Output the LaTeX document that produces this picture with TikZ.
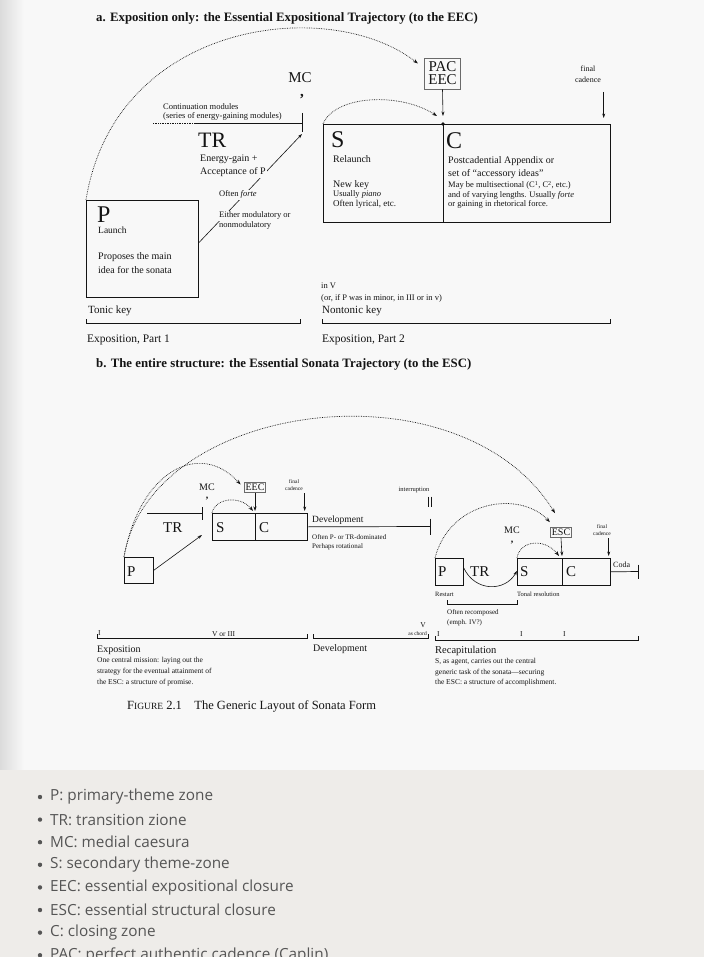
\documentclass[tikz,border=0pt]{standalone}
\usepackage{fontspec}
\setmainfont{Liberation Serif}
\newfontfamily\listfont{Open Sans}
\usetikzlibrary{arrows.meta,calc}
\definecolor{scanink}{HTML}{141414}
\definecolor{scangray}{HTML}{6A6A6A}
\definecolor{pagecol}{HTML}{F8F8F8}
\definecolor{sitebg}{HTML}{EEECE9}
\definecolor{listink}{HTML}{555555}
\newcommand{\fsz}[1]{\fontsize{#1}{#1}\selectfont}
\newcommand{\keyspan}[2]{\draw[spanline] ([yshift=4pt]#1) -- (#1) -- (#2) -- ([yshift=4pt]#2);}
\tikzset{
  zonebox/.style={draw=scanink, line width=0.7pt, inner sep=0pt, anchor=north west},
  lbl/.style={inner sep=0pt, anchor=base west, text=scanink},
  ctr/.style={inner sep=0pt, text=scanink, align=center},
  dotarc/.style={densely dotted, line width=0.7pt, draw=scanink, -{Stealth[length=5pt,width=3.5pt]}},
  pointer/.style={line width=0.6pt, draw=scanink, -{Stealth[length=4.5pt,width=3pt]}},
  spanline/.style={line width=0.7pt, draw=scanink},
  cadbox/.style={draw=scangray, line width=0.9pt, inner sep=1.5pt, text=scanink},
  listitem/.style={inner sep=0pt, anchor=west, text=listink, font=\listfont\fsz{15.3}}
}
\begin{document}
\begin{tikzpicture}[x=1pt, y=-1pt]
  \useasboundingbox (0,0) rectangle (704,957);
  \clip (0,0) rectangle (704,957);
  %% page and site backgrounds
  \fill[pagecol] (0,0) rectangle (704,770);
  \fill[left color=black!14, right color=pagecol] (0,0) rectangle (24,770);
  \fill[sitebg] (0,770) rectangle (704,957);

  %% ---------- a. Exposition only ----------
  \node[lbl, font=\bfseries\fsz{12.8}] (titleA) at (96,22) {a. Exposition only: the Essential Expositional Trajectory (to the EEC)};

  % P zone
  \node[zonebox, minimum width=112pt, minimum height=97pt] (pA) at (86,200) {};
  \node[lbl, font=\fsz{24}] at (97,223) {P};
  \node[lbl, font=\fsz{9.5}] at (98,234) {Launch};
  \node[lbl, font=\fsz{10}] at (98,260) {Proposes the main};
  \node[lbl, font=\fsz{10}] at (98,273) {idea for the sonata};

  % S and C zones
  \node[zonebox, minimum width=120pt, minimum height=98pt] (sA) at (323,124) {};
  \node[zonebox, minimum width=167pt, minimum height=98pt] (cA) at (443,124) {};
  \node[lbl, font=\fsz{24}] at (331,148) {S};
  \node[lbl, font=\fsz{10}] at (333,163) {Relaunch};
  \node[lbl, font=\fsz{10}] at (333,188) {New key};
  \node[lbl, font=\fsz{8.5}] at (333,197) {Usually \textit{piano}};
  \node[lbl, font=\fsz{9}] at (333,207) {Often lyrical, etc.};
  \node[lbl, font=\fsz{24}] at (446,149) {C};
  \node[lbl, font=\fsz{10}] at (448,164) {Postcadential Appendix or};
  \node[lbl, font=\fsz{10}] at (448,177) {set of ``accessory ideas''};
  \node[lbl, font=\fsz{8.5}] at (448,188) {May be multisectional (C\textsuperscript{1}, C\textsuperscript{2}, etc.)};
  \node[lbl, font=\fsz{8.5}] at (448,198) {and of varying lengths. Usually \textit{forte}};
  \node[lbl, font=\fsz{8.5}] at (448,207) {or gaining in rhetorical force.};

  % cadence markers
  \node[cadbox, font=\fontsize{15}{13}\selectfont, align=center, inner sep=4pt] (pacA) at (442.5,73.5) {PAC\\EEC};
  \node[ctr, font=\fontsize{8}{11}\selectfont] (fcA) at (588,74) {final\\cadence};
  \node[ctr, font=\fsz{15}] (mcA) at (300,78) {MC};
  \node[ctr, font=\bfseries\fsz{15}] (mcAc) at (302,97) {,};

  % continuation modules and TR
  \node[lbl, font=\fsz{8.5}] at (163,110) {Continuation modules};
  \node[lbl, font=\fsz{8.5}] at (163,119) {(series of energy-gaining modules)};
  \coordinate (trA) at (302,123);
  \draw[spanline, densely dotted] (153,123) -- (195,123);
  \draw[spanline] (195,123) -- (trA);
  \draw[spanline] ([yshift=10pt]trA) -- ([yshift=-9pt]trA);
  \draw[pointer] ([yshift=6pt]pA.east) -- ([yshift=-11pt]trA);
  \node[lbl, font=\fsz{22}] at (198,148) {TR};
  \node[lbl, font=\fsz{10}] at (200,162) {Energy-gain +};
  \node[lbl, font=\fsz{10}, fill=pagecol, inner sep=1pt] at (199,175) {Acceptance of P};
  \node[lbl, font=\fsz{8.5}, fill=pagecol, inner sep=1pt] at (218,197) {Often \textit{forte}};
  \node[lbl, font=\fsz{8.5}, fill=pagecol, inner sep=1pt] at (218,218) {Either modulatory or};
  \node[lbl, font=\fsz{8.5}] at (219,228) {nonmodulatory};

  % trajectories a
  \draw[dotarc] (pA.north west) .. controls (115,20) and (330,-5) .. ([xshift=-6pt,yshift=10pt]pacA.west);
  \draw[dotarc] (sA.north west) .. controls (335,95) and (400,92) .. ([xshift=-6pt,yshift=8pt]cA.north west);
  \draw[pointer] (pacA.south) -- ([yshift=8pt]cA.north west);
  \fill[scanink] (cA.north west) circle (1.8);
  \draw[pointer] ($(cA.north east)+(-7,-32)$) -- ($(cA.north east)+(-7,-6)$);

  % key spans a
  \node[lbl, font=\fsz{11}] at (88,313) {Tonic key};
  \coordinate (kA1l) at (86,323);
  \coordinate (kA1r) at (300,323);
  \keyspan{kA1l}{kA1r}
  \node[lbl, font=\fsz{11.5}] at (87,342) {Exposition, Part 1};
  \node[lbl, font=\fsz{8.5}] at (321,288) {in V};
  \node[lbl, font=\fsz{8.5}] at (321,300) {(or, if P was in minor, in III or in v)};
  \node[lbl, font=\fsz{11}] at (322,313) {Nontonic key};
  \coordinate (kA2l) at (322,323);
  \coordinate (kA2r) at (610,323);
  \keyspan{kA2l}{kA2r}
  \node[lbl, font=\fsz{11.5}] at (322,342) {Exposition, Part 2};

  %% ---------- b. The entire structure ----------
  \node[lbl, font=\bfseries\fsz{12.8}] (titleB) at (96,367) {b. The entire structure: the Essential Sonata Trajectory (to the ESC)};

  % exposition
  \node[zonebox, minimum width=29pt, minimum height=26pt] (pB) at (124,557) {};
  \node[lbl, font=\fsz{15}] at (127,576) {P};
  \node[zonebox, minimum width=43pt, minimum height=27pt] (sB) at (212,513) {};
  \node[zonebox, minimum width=52pt, minimum height=27pt] (cB) at (255,513) {};
  \node[lbl, font=\fsz{15}] at (216,532) {S};
  \node[lbl, font=\fsz{15}] at (259,532) {C};
  \node[cadbox, font=\fsz{10}] (eecB) at (255,487.5) {EEC};
  \node[ctr, font=\fsz{10}] (mcB) at (207,487) {MC};
  \node[ctr, font=\bfseries\fsz{10}] (mcBc) at (207,499) {,};
  \node[ctr, font=\fontsize{5.5}{6.5}\selectfont] (fcB) at (294,485) {final\\cadence};
  \coordinate (trB) at (202,513);
  \draw[spanline] (147,513) -- (trB);
  \draw[spanline] ([yshift=6pt]trB) -- ([yshift=-7pt]trB);
  \node[lbl, font=\fsz{15}] at (163,532) {TR};
  \draw[pointer] (pB.east) -- ([yshift=-22pt]trB);
  \draw[pointer] (eecB.south) -- ([yshift=2pt]cB.north west);
  \draw[pointer] ($(cB.north east)+(-3,-20)$) -- ($(cB.north east)+(-3,-2)$);

  % development
  \coordinate (devB) at (430,526.5);
  \draw[spanline] (cB.east) -- (devB);
  \draw[spanline] ([yshift=8pt]devB) -- ([yshift=-8pt]devB);
  \node[lbl, font=\fsz{9.5}] at (312,522) {Development};
  \node[lbl, font=\fsz{7}] at (312,539) {Often P- or TR-dominated};
  \node[lbl, font=\fsz{7}] at (312,548) {Perhaps rotational};
  \node[ctr, font=\fsz{6.5}] (intB) at (414,490) {interruption};
  \draw[spanline] ([xshift=-1.5pt,yshift=30pt]devB) -- ([xshift=-1.5pt,yshift=20pt]devB);
  \draw[spanline] ([xshift=1.5pt,yshift=30pt]devB) -- ([xshift=1.5pt,yshift=20pt]devB);

  % recapitulation
  \node[zonebox, minimum width=28pt, minimum height=27pt] (pR) at (435,558) {};
  \node[lbl, font=\fsz{15}] at (438,576) {P};
  \node[zonebox, minimum width=45pt, minimum height=27pt] (sR) at (517,558) {};
  \node[zonebox, minimum width=48pt, minimum height=27pt] (cR) at (562,558) {};
  \node[lbl, font=\fsz{15}] at (520,576) {S};
  \node[lbl, font=\fsz{15}] at (566,576) {C};
  \node[lbl, font=\fsz{15}] at (470,576) {TR};
  \node[cadbox, font=\fsz{10}] (escR) at (561,532.5) {ESC};
  \node[ctr, font=\fsz{10}] (mcR) at (512,530) {MC};
  \node[ctr, font=\bfseries\fsz{10}] (mcRc) at (512,543) {,};
  \node[ctr, font=\fontsize{5.5}{6.5}\selectfont] (fcR) at (602,530) {final\\cadence};
  \draw[pointer] ([yshift=4pt]pR.east) .. controls (475,592) and (505,592) .. ([yshift=1pt]sR.west);
  \draw[pointer] (escR.south) -- ([yshift=2pt]cR.north west);
  \draw[pointer] ($(cR.north east)+(-2,-20)$) -- ($(cR.north east)+(-2,-2)$);
  \coordinate (codaR) at (638,571.5);
  \draw[spanline] (cR.east) -- (codaR);
  \draw[spanline] ([yshift=7pt]codaR) -- ([yshift=-7pt]codaR);
  \node[lbl, font=\fsz{8}] at (613,567) {Coda};
  \node[lbl, font=\fsz{6.5}] at (435,596) {Restart};
  \node[lbl, font=\fsz{6.5}] at (517,596) {Tonal resolution};
  \coordinate (rcL) at (447,604);
  \coordinate (rcR) at (517,604);
  \keyspan{rcL}{rcR}
  \node[lbl, font=\fsz{7}] at (447,614) {Often recomposed};
  \node[lbl, font=\fsz{7}] at (447,624) {(emph. IV?)};

  % trajectories b
  \draw[dotarc] (pB.north west) .. controls (150,400) and (460,360) .. ([xshift=-6pt,yshift=14pt]escR.north);
  \draw[dotarc] (pB.north west) .. controls (140,470) and (200,440) .. ([xshift=-3pt,yshift=3pt]eecB.west);
  \draw[dotarc] (sB.north west) .. controls (215,498) and (240,495) .. ([xshift=-2pt,yshift=2pt]cB.north west);
  \draw[dotarc] (pR.north west) .. controls (450,500) and (520,490) .. ([yshift=5pt]escR.north west);
  \draw[dotarc] (sR.north west) .. controls (520,540) and (545,538) .. ([xshift=-3pt,yshift=2pt]cR.north west);

  % key spans b
  \node[lbl, font=\fsz{7.5}] at (98,635) {I};
  \node[lbl, font=\fsz{7.5}] at (212,636) {V or III};
  \coordinate (kBxl) at (97,638);
  \coordinate (kBxr) at (307,638);
  \keyspan{kBxl}{kBxr}
  \node[lbl, font=\fsz{10}] at (97,652) {Exposition};
  \node[lbl, font=\fsz{7.5}] at (97,662) {One central mission: laying out the};
  \node[lbl, font=\fsz{7.5}] at (97,673) {strategy for the eventual attainment of};
  \node[lbl, font=\fsz{7.5}] at (97,684) {the ESC: a structure of promise.};
  \coordinate (kBdl) at (313,638);
  \coordinate (kBdr) at (428,638);
  \keyspan{kBdl}{kBdr}
  \node[lbl, font=\fsz{10}] at (313,651) {Development};
  \node[ctr, font=\fsz{7.5}] at (423,625) {V};
  \node[lbl, anchor=base east, font=\fsz{5.5}] at (427,635) {as chord};
  \coordinate (kBrl) at (435,640);
  \coordinate (kBrr) at (638,640);
  \keyspan{kBrl}{kBrr}
  \node[lbl, font=\fsz{7.5}] at (437,636) {I};
  \node[lbl, font=\fsz{7.5}] at (520,636) {I};
  \node[lbl, font=\fsz{7.5}] at (563,636) {I};
  \node[lbl, font=\fsz{10.5}] at (435,653) {Recapitulation};
  \node[lbl, font=\fsz{7.5}] at (435,663) {S, as agent, carries out the central};
  \node[lbl, font=\fsz{7.5}] at (435,674) {generic task of the sonata---securing};
  \node[lbl, font=\fsz{7.5}] at (435,684) {the ESC: a structure of accomplishment.};

  % caption
  \node[lbl, font=\fsz{12.5}] (capB) at (127,709) {F{\fsz{9.5}IGURE} 2.1\quad The Generic Layout of Sonata Form};

  %% glossary list
  \foreach \entry [count=\k] in {P: primary-theme zone, TR: transition zione, MC: medial caesura, S: secondary theme-zone, EEC: essential expositional closure, ESC: essential structural closure, C: closing zone, PAC: perfect authentic cadence (Caplin)} {
    \fill[listink] (40,{797+22.6*(\k-1)}) circle (2.2);
    \node[listitem] (li\k) at (50,{797+22.6*(\k-1)}) {\entry};
  }
\end{tikzpicture}
\end{document}
